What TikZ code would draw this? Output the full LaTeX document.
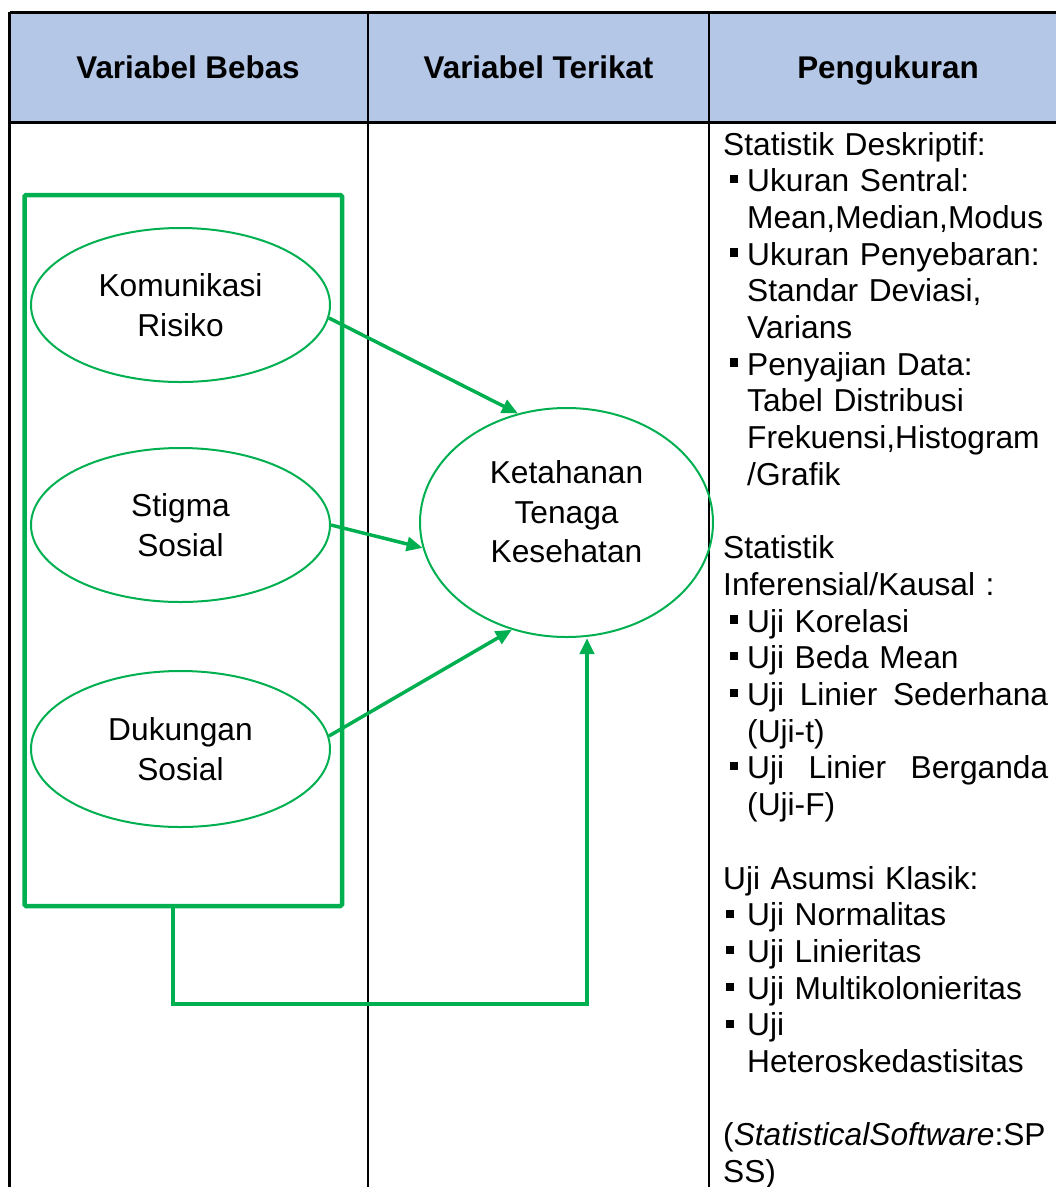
\documentclass[tikz,border=0pt]{standalone}
\usepackage{fontspec}
\setmainfont{Liberation Sans}
\usepackage{tikz}
\usetikzlibrary{shapes.geometric,arrows.meta}

\definecolor{grn}{HTML}{00B050}
\definecolor{headblue}{HTML}{B4C7E7}

\newcommand{\sqbul}{\hspace*{6.5pt}\rule[8.5pt]{8.5pt}{8.5pt}\hspace{9pt}}
\newcommand{\sqbulwide}{\hspace*{3pt}\rule[8pt]{8pt}{8pt}\hspace{13pt}}
\newcommand{\contind}{\hspace*{24pt}}

\begin{document}
\begin{tikzpicture}[x=1pt, y=-1pt,
  ell/.style = {draw=grn, ellipse, line width=2pt, inner sep=0pt, align=center,
                font=\fontsize{31.7}{40}\selectfont},
  elltext/.style = {align=center, inner sep=0pt, font=\fontsize{31.7}{39.5}\selectfont},
  head/.style = {anchor=base, font=\fontsize{31.4}{36}\selectfont\bfseries},
  link/.style = {draw=grn, line width=3.5pt, -{Triangle[length=16pt,width=14pt]}}]

	\useasboundingbox (0,0) rectangle (1056,1187);
	\clip (0,0) rectangle (1056,1187);
	
	% table header and grid
	\fill[headblue] (9.5,12) rectangle (1070,122);
	\draw[line width=3pt] (9.5,12) -- (1070,12);
	\draw[line width=3pt] (9.5,122) -- (1070,122);
	\draw[line width=2.5pt] (9.5,12) -- (9.5,1190);
	\draw[line width=2.5pt] (368,12) -- (368,1190);
	\draw[line width=2.5pt] (709,12) -- (709,1190);
	
	\node[head] (hbebas) at (188,78.5) {Variabel Bebas};
	\node[head] (hterikat) at (538.5,78.5) {Variabel Terikat};
	\node[head] (hukur) at (888,78.5) {Pengukuran};
	
	% independent variables
	\node[draw=grn, line width=4.5pt, rounded corners=1.5pt, minimum width=317.5pt,
	      minimum height=711pt, inner sep=0pt] (vbox) at (183.25,550.5) {};
	
	\node[ell, minimum width=299pt, minimum height=154pt] (kom) at (180.5,305) {Komunikasi\\Risiko};
	\node[ell, minimum width=299pt, minimum height=154pt] (sti) at (180.5,525) {Stigma\\Sosial};
	\node[ell, minimum width=299pt, minimum height=156pt] (duk) at (180.5,749) {Dukungan\\Sosial};
	
	% dependent variable
	\node[ell, minimum width=293pt, minimum height=229pt] (ket) at (566.5,522.5) {};
	\node[elltext] (kettext) at (566.5,512) {Ketahanan\\Tenaga\\Kesehatan};
	
	\draw[link] (kom.-5) -- (ket.114);
	\draw[link] (sti.east) -- (ket.190);
	\draw[link] (duk.5) -- (ket.243);
	
	% joint effect
	\coordinate (fbl) at (173,1004);
	\coordinate (fbr) at (587,1004);
	\draw[link, line width=4.5pt] (vbox.south -| fbl) -- (fbl) -- (fbr) -- (fbr |- ket.south);
	
	% measurement column
	\node[anchor=base west, align=left, inner sep=0pt, text width=340pt,
	      font=\fontsize{31.7}{36.7}\selectfont] (meas) at (723,155) {%
	\noindent Statistik Deskriptif:\\
	\sqbul Ukuran Sentral:\\
	\contind Mean,Median,Modus\\
	\sqbul Ukuran Penyebaran:\\
	\contind Standar Deviasi,\\
	\contind Varians\\
	\sqbul Penyajian Data:\\
	\contind Tabel Distribusi\\
	\contind Frekuensi,Histogram\\
	\contind /Grafik\\[36.7pt]
	Statistik\\
	Inferensial/Kausal :\\
	\sqbul Uji Korelasi\\
	\sqbul Uji Beda Mean\\
	\sqbul \makebox[301pt][l]{Uji\hfill Linier\hfill Sederhana}\\
	\contind (Uji-t)\\
	\sqbul \makebox[301pt][l]{Uji\hfill Linier\hfill Berganda}\\
	\contind (Uji-F)\\[36.7pt]
	Uji Asumsi Klasik:\\
	\sqbulwide Uji Normalitas\\
	\sqbulwide Uji Linieritas\\
	\sqbulwide Uji Multikolonieritas\\
	\sqbulwide Uji\\
	\contind Heteroskedastisitas\\[36.7pt]
	(\textit{StatisticalSoftware}:SP\\
	SS)};
	
\end{tikzpicture}
\end{document}
